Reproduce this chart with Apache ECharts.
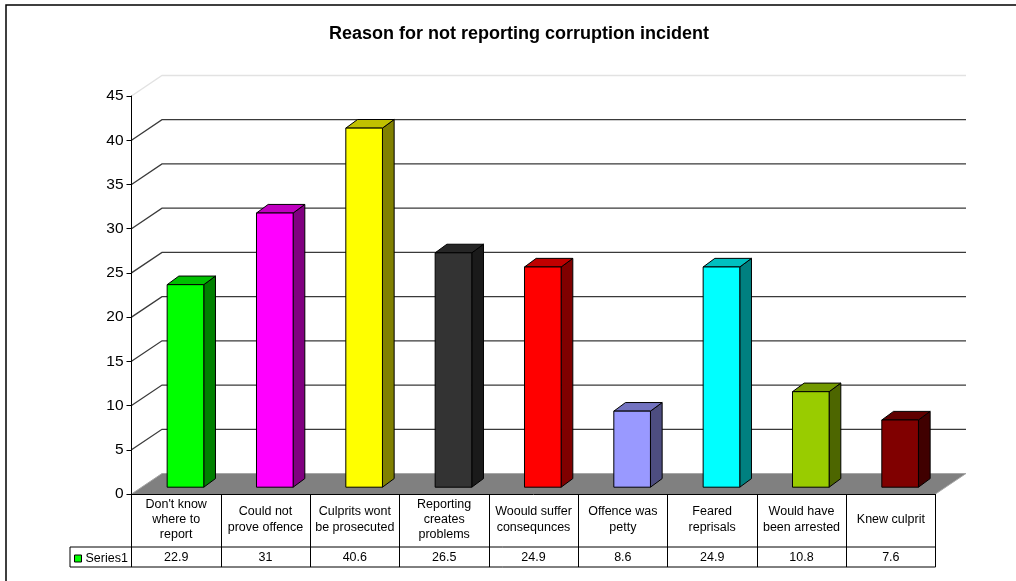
<!DOCTYPE html>
<html>
<head>
<meta charset="utf-8">
<title>Reason for not reporting corruption incident</title>
<script src="https://cdn.jsdelivr.net/npm/echarts@6/dist/echarts.min.js"></script>
<style>
  html, body { margin: 0; padding: 0; background: #ffffff; }
  #chart { width: 1016px; height: 581px; }
</style>
</head>
<body>
<div id="chart"></div>
<script>
// Survey results: share of respondents (%) per reason
const categories = [
  "Don't know where to report",
  "Could not prove offence",
  "Culprits wont be prosecuted",
  "Reporting creates problems",
  "Woould suffer consequnces",
  "Offence was petty",
  "Feared reprisals",
  "Would have been arrested",
  "Knew culprit"
];
// Wrapped versions shown in the data-table header row
const categoryLabels = [
  "Don't know\nwhere to\nreport",
  "Could not\nprove offence",
  "Culprits wont\nbe prosecuted",
  "Reporting\ncreates\nproblems",
  "Woould suffer\nconsequnces",
  "Offence was\npetty",
  "Feared\nreprisals",
  "Would have\nbeen arrested",
  "Knew culprit"
];
const series1 = [22.9, 31, 40.6, 26.5, 24.9, 8.6, 24.9, 10.8, 7.6];
const yTicks = [0, 5, 10, 15, 20, 25, 30, 35, 40, 45];

// Face colours of each column: front, right side, top
const frontColors = ['#00ff00', '#ff00ff', '#ffff00', '#333333', '#ff0000', '#9999ff', '#00ffff', '#99cc00', '#800000'];
const sideColors  = ['#008000', '#800080', '#808000', '#1a1a1a', '#800000', '#4d4d80', '#008080', '#4d6600', '#400000'];
const topColors   = ['#00c000', '#c000c0', '#c0c000', '#262626', '#c00000', '#7373c0', '#00c0c0', '#739900', '#600000'];

// Oblique projection of the plot box
const WALL = [30.5, -20.5];      // offset of the back wall from the front plane
const BAR_FRONT = [9.3, -6.8];   // offset of a column's front face
const BAR_DEPTH = [11.7, -8.6];  // column depth
const BAR_RATIO = 0.41;          // column width / category band
const FONT = '"Liberation Sans", Arial, sans-serif';

const chart = echarts.init(document.getElementById('chart'), null, { renderer: 'canvas' });

function renderWall(params, api) {
  const cs = params.coordSys;
  const v = api.value(1);
  const y = api.coord([0, v])[1];
  const x0 = cs.x, x1 = cs.x + cs.width;
  if (v === 0) {
    return {
      type: 'group',
      children: [
        {
          type: 'polygon',
          shape: { points: [[x0, y], [x0 + WALL[0], y + WALL[1]], [x1 + WALL[0], y + WALL[1]], [x1, y]] },
          style: { fill: '#808080', stroke: null }
        },
        {
          type: 'polyline',
          shape: { points: [[x0, y], [x0 + WALL[0], y + WALL[1]], [x1 + WALL[0], y + WALL[1]], [x1, y]] },
          style: { fill: null, stroke: '#a6a6a6', lineWidth: 1 }
        }
      ]
    };
  }
  const color = v === 45 ? '#e2e2e2' : '#3a3a3a';
  return {
    type: 'polyline',
    shape: { points: [[x0, y], [x0 + WALL[0], y + WALL[1]], [x1 + WALL[0], y + WALL[1]]] },
    style: { fill: null, stroke: color, lineWidth: 1.3 }
  };
}

function renderColumn(params, api) {
  const i = params.dataIndex;
  const base = api.coord([api.value(0), 0]);
  const top = api.coord([api.value(0), api.value(1)]);
  const w = api.size([1, 0])[0] * BAR_RATIO;
  const xl = base[0] + BAR_FRONT[0] - w / 2;
  const xr = xl + w;
  const yb = base[1] + BAR_FRONT[1];
  const yt = top[1] + BAR_FRONT[1];
  const dx = BAR_DEPTH[0], dy = BAR_DEPTH[1];
  const edge = { stroke: '#000', lineWidth: 1, lineJoin: 'round' };
  return {
    type: 'group',
    children: [
      {
        type: 'polygon',
        shape: { points: [[xr, yt], [xr + dx, yt + dy], [xr + dx, yb + dy], [xr, yb]] },
        style: Object.assign({ fill: sideColors[i] }, edge)
      },
      {
        type: 'polygon',
        shape: { points: [[xl, yt], [xl + dx, yt + dy], [xr + dx, yt + dy], [xr, yt]] },
        style: Object.assign({ fill: topColors[i] }, edge)
      },
      {
        type: 'rect',
        shape: { x: xl, y: yt, width: w, height: yb - yt },
        style: Object.assign({ fill: frontColors[i] }, edge)
      }
    ]
  };
}

// Horizontal rules of the data table and the legend-key cell
function renderTable(params) {
  const cs = params.coordSys;
  const x0 = cs.x, x1 = cs.x + cs.width, y0 = cs.y + cs.height;
  const xk = x0 - 61.5;
  const line = { stroke: '#000', lineWidth: 1 };
  return {
    type: 'group',
    children: [
      { type: 'line', shape: { x1: xk, y1: y0 + 53, x2: x1, y2: y0 + 53 }, style: line },
      { type: 'line', shape: { x1: xk, y1: y0 + 73, x2: x1, y2: y0 + 73 }, style: line },
      { type: 'line', shape: { x1: xk, y1: y0 + 53, x2: xk, y2: y0 + 73 }, style: line }
    ]
  };
}

chart.setOption({
  animation: false,
  backgroundColor: '#ffffff',
  textStyle: { fontFamily: FONT },
  title: {
    text: 'Reason for not reporting corruption incident',
    left: 514,
    top: 20,
    textAlign: 'center',
    textStyle: { fontFamily: FONT, fontSize: 18, fontWeight: 'bold', color: '#000' }
  },
  graphic: [
    {
      type: 'rect',
      shape: { x: 6, y: 5, width: 1040, height: 620 },
      style: { fill: null, stroke: '#000', lineWidth: 1.5 },
      silent: true
    }
  ],
  legend: {
    data: ['Series1'],
    left: 74,
    top: 552,
    padding: 0,
    icon: 'rect',
    itemWidth: 7,
    itemHeight: 7,
    itemGap: 4,
    selectedMode: false,
    itemStyle: { color: '#00ff00', borderColor: '#000', borderWidth: 1 },
    textStyle: { fontFamily: FONT, fontSize: 12.5, color: '#000', padding: [0, 0, 0, -1] }
  },
  grid: { left: 131.5, top: 96, width: 804, height: 398 },
  xAxis: [
    {
      type: 'category',
      data: categoryLabels,
      boundaryGap: true,
      z: 5,
      axisLine: { show: true, lineStyle: { color: '#000', width: 1 } },
      axisTick: { show: true, interval: 0, length: 73, lineStyle: { color: '#000', width: 1 } },
      axisLabel: {
        interval: 0,
        margin: 25.5,
        verticalAlign: 'middle',
        fontFamily: FONT,
        fontSize: 12.5,
        lineHeight: 15.2,
        color: '#000'
      },
      splitLine: { show: false }
    },
    {
      type: 'category',
      data: series1.map(String),
      position: 'bottom',
      boundaryGap: true,
      axisLine: { show: false },
      axisTick: { show: false },
      axisLabel: {
        interval: 0,
        margin: 64,
        verticalAlign: 'middle',
        fontFamily: FONT,
        fontSize: 12.5,
        color: '#000'
      },
      splitLine: { show: false }
    }
  ],
  yAxis: {
    type: 'value',
    min: 0,
    max: 45,
    interval: 5,
    z: 5,
    axisLine: { show: true, lineStyle: { color: '#000', width: 1 } },
    axisTick: { show: true, length: 5, lineStyle: { color: '#000' } },
    axisLabel: { fontFamily: FONT, fontSize: 15.5, color: '#000', margin: 8 },
    splitLine: { show: false }
  },
  series: [
    {
      name: 'wall',
      type: 'custom',
      coordinateSystem: 'cartesian2d',
      renderItem: renderWall,
      data: yTicks.map(v => [0, v]),
      silent: true,
      z: 1
    },
    {
      name: 'table',
      type: 'custom',
      coordinateSystem: 'cartesian2d',
      renderItem: renderTable,
      data: [[0, 0]],
      silent: true,
      z: 1
    },
    {
      name: 'Series1',
      type: 'custom',
      coordinateSystem: 'cartesian2d',
      renderItem: renderColumn,
      itemStyle: { color: '#00ff00' },
      data: series1.map((v, i) => [i, v]),
      z: 3
    }
  ]
});
</script>
</body>
</html>
